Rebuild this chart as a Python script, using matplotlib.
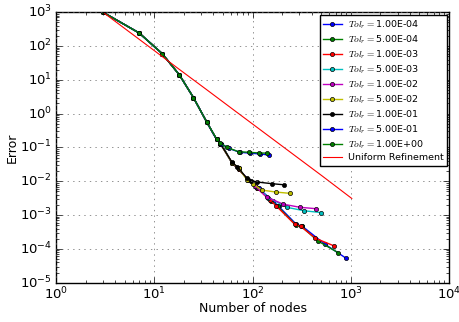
import numpy as np
import matplotlib
matplotlib.use("Agg")
from matplotlib import pyplot as plt

plt.style.use('classic')

# shared start of every adaptive run
n0 = [3, 7, 12, 18, 25, 34]
e0 = [1000, 244, 60, 14, 3.0, 0.58]

tols = ['1.00E-04', '5.00E-04', '1.00E-03', '5.00E-03', '1.00E-02',
        '5.00E-02', '1.00E-01', '5.00E-01', '1.00E+00']
colors = ['b', 'g', 'r', 'c', 'm', 'y', 'k', 'b', 'g']

# nodes / error after the shared start, one list per tolerance
nodes_tail = [
    [43, 48, 62, 72, 90, 115, 160, 185, 280, 320, 547, 888],
    [43, 48, 62, 72, 90, 112, 155, 180, 275, 316, 464, 741],
    [43, 47, 62, 72, 90, 110, 150, 173, 268, 310, 436, 670],
    [43, 47, 62, 72, 90, 108, 145, 223, 337, 495],
    [43, 47, 62, 72, 90, 105, 139, 206, 304, 440],
    [43, 47, 62, 72, 88, 100, 124, 173, 240],
    [43, 47, 62, 70, 87, 97, 112, 157, 207],
    [43, 48, 57, 74, 95, 120, 148],
    [43, 47, 55, 72, 92, 115, 139],
]
err_tail = [
    [0.175, 0.13, 0.034, 0.023, 0.011, 0.0062, 0.0027, 0.0018, 5.3e-4, 4.7e-4, 1.37e-4, 5.4e-5],
    [0.175, 0.13, 0.034, 0.023, 0.011, 0.0064, 0.0027, 0.0018, 5.2e-4, 4.6e-4, 1.7e-4, 7.8e-5],
    [0.175, 0.13, 0.034, 0.023, 0.011, 0.0065, 0.0028, 0.0019, 5.4e-4, 4.6e-4, 2.07e-4, 1.24e-4],
    [0.175, 0.13, 0.034, 0.024, 0.011, 0.0070, 0.0033, 0.0017, 0.00134, 0.00119],
    [0.175, 0.13, 0.035, 0.024, 0.011, 0.0075, 0.0034, 0.0021, 0.0017, 0.00155],
    [0.175, 0.13, 0.035, 0.025, 0.011, 0.0085, 0.0055, 0.0048, 0.0044],
    [0.175, 0.13, 0.036, 0.027, 0.0125, 0.0105, 0.0095, 0.0085, 0.0079],
    [0.175, 0.13, 0.095, 0.072, 0.068, 0.064, 0.060],
    [0.18, 0.135, 0.10, 0.075, 0.072, 0.069, 0.068],
]

# uniform refinement
n_uni = [3, 5, 9, 17, 33, 65, 129, 257, 513, 1025]
e_uni = [1000, 330, 92, 23, 5.5, 1.26, 0.285, 0.064, 0.0143, 0.0031]

fig = plt.figure(figsize=(4.6, 3.22), dpi=100, facecolor='white')
ax = fig.add_axes([0.122, 0.122, 0.854, 0.840])

for tol, c, nt, et in zip(tols, colors, nodes_tail, err_tail):
    ax.loglog(n0 + nt, e0 + et, '-o', color=c, lw=1, ms=3, mec='k',
              label=r'$Tol_r=$' + tol)
ax.loglog(n_uni, e_uni, 'r-', lw=0.8, label='Uniform Refinement')

ax.set_xlim(1, 1e4)
ax.set_ylim(1e-5, 1e3)
ax.grid(True, which='major', color='0.4', linestyle=':')
ax.set_xlabel('Number of nodes', fontsize=9, labelpad=0)
ax.set_ylabel('Error', fontsize=9, labelpad=1)
ax.tick_params(labelsize=9.5, pad=3)
ax.tick_params(axis='x', pad=2)
ax.legend(loc='upper right', fontsize=6.8, numpoints=1, handlelength=2.0,
          borderpad=0.35, labelspacing=0.26, handletextpad=0.6,
          borderaxespad=0.25)

fig.savefig('out.png', dpi=100, facecolor='white')
